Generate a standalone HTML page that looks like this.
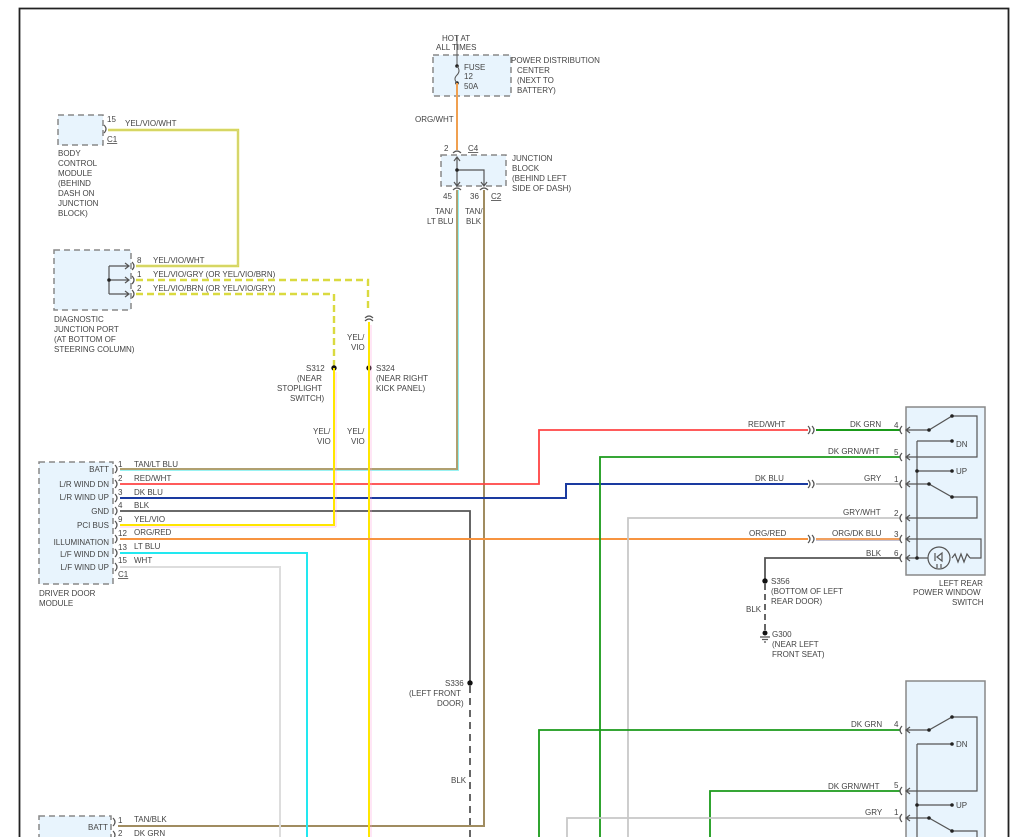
<!DOCTYPE html>
<html><head><meta charset="utf-8"><style>
html,body{margin:0;padding:0;background:#fff;}
svg{display:block;}
text{font-family:"Liberation Sans",sans-serif;font-size:8px;fill:#444;}
.b{fill:#e8f4fd;stroke:#888;stroke-width:1.5;stroke-dasharray:6,4;}
.s{fill:#e8f4fd;stroke:#888;stroke-width:1.5;}
.k{stroke:#555;stroke-width:1.2;fill:none;}
</style></head><body>
<svg width="1023" height="837" viewBox="0 0 1023 837" xmlns="http://www.w3.org/2000/svg">
<path d="M19.5 837 V8.5 H1008.5 V837" stroke="#222" stroke-width="1.8" fill="none"/>

<rect class="b" x="433" y="55" width="78" height="41"/>
<text x="442" y="41">HOT AT</text><text x="436" y="50">ALL TIMES</text>
<text x="511" y="63">POWER DISTRIBUTION</text><text x="517" y="73">CENTER</text><text x="517" y="83">(NEXT TO</text><text x="517" y="93">BATTERY)</text>
<line x1="457" y1="36" x2="457" y2="66" stroke="#555"/>
<circle cx="457" cy="66" r="1.8" fill="#222"/><circle cx="457" cy="83" r="1.8" fill="#222"/>
<path d="M457 66 Q461 71 457 75 Q453 79 457 83" stroke="#555" fill="none"/>
<text x="464" y="70">FUSE</text><text x="464" y="79">12</text><text x="464" y="89">50A</text>
<line x1="457" y1="83" x2="457" y2="150" stroke="#f0a050" stroke-width="2"/>
<text x="415" y="122">ORG/WHT</text>

<text x="444" y="151">2</text><text x="468" y="151" text-decoration="underline">C4</text>
<path d="M453 153 Q457 149 461 153" class="k"/>
<rect class="b" x="441" y="155" width="65" height="31"/>
<text x="512" y="161">JUNCTION</text><text x="512" y="171">BLOCK</text><text x="512" y="181">(BEHIND LEFT</text><text x="512" y="191">SIDE OF DASH)</text>
<path d="M457 157 V186 M454 161 L457 157 L460 161 M454 182 L457 186 L460 182 M457 170 H484 V186 M481 182 L484 186 L487 182" class="k"/>
<circle cx="457" cy="170" r="1.8" fill="#222"/>
<path d="M453 190 Q457 186 461 190 M480 190 Q484 186 488 190" class="k"/>
<text x="443" y="199">45</text><text x="470" y="199">36</text><text x="491" y="199" text-decoration="underline">C2</text>
<text x="435" y="214">TAN/</text><text x="427" y="224">LT BLU</text>
<text x="465" y="214">TAN/</text><text x="466" y="224">BLK</text>

<rect class="b" x="58" y="115" width="45" height="30"/>
<text x="107" y="122">15</text><text x="107" y="142" text-decoration="underline">C1</text>
<path d="M104 125 Q108 129 104 133" class="k"/>
<text x="125" y="126">YEL/VIO/WHT</text>
<text x="58" y="156">BODY</text><text x="58" y="166">CONTROL</text><text x="58" y="176">MODULE</text><text x="58" y="186">(BEHIND</text><text x="58" y="196">DASH ON</text><text x="58" y="206">JUNCTION</text><text x="58" y="216">BLOCK)</text>
<path d="M108 130 H238 V266 H136" stroke="#dada40" stroke-width="2.4" fill="none"/>
<path d="M108 130 H238 V266 H136" stroke="#ccc" stroke-width="0.6" fill="none"/>

<rect class="b" x="54" y="250" width="77" height="60"/>
<path d="M109 266 H129 M109 280 H129 M109 294 H129 M109 266 V294 M125 263 L129 266 L125 269 M125 277 L129 280 L125 283 M125 291 L129 294 L125 297" class="k"/>
<circle cx="109" cy="280" r="1.8" fill="#222"/>
<path d="M132 262 Q136 266 132 270 M132 276 Q136 280 132 284 M132 290 Q136 294 132 298" class="k"/>
<text x="137" y="263">8</text><text x="153" y="263">YEL/VIO/WHT</text>
<text x="137" y="277">1</text><text x="153" y="277">YEL/VIO/GRY (OR YEL/VIO/BRN)</text>
<text x="137" y="291">2</text><text x="153" y="291">YEL/VIO/BRN (OR YEL/VIO/GRY)</text>
<text x="54" y="322">DIAGNOSTIC</text><text x="54" y="332">JUNCTION PORT</text><text x="54" y="342">(AT BOTTOM OF</text><text x="54" y="352">STEERING COLUMN)</text>
<path d="M136 280 H368 V312 M136 294 H334 V368" stroke="#dada40" stroke-width="2.4" stroke-dasharray="7,4" fill="none"/>
<path d="M365 318 Q369 314 373 318 M365 321 Q369 317 373 321" class="k"/>
<text x="347" y="340">YEL/</text><text x="351" y="350">VIO</text>
<circle cx="334" cy="368" r="2.7" fill="#111"/><circle cx="369" cy="368" r="2.7" fill="#111"/>
<text x="306" y="371">S312</text><text x="297" y="381">(NEAR</text><text x="277" y="391">STOPLIGHT</text><text x="290" y="401">SWITCH)</text>
<text x="376" y="371">S324</text><text x="376" y="381">(NEAR RIGHT</text><text x="376" y="391">KICK PANEL)</text>
<text x="313" y="434">YEL/</text><text x="317" y="444">VIO</text>
<text x="347" y="434">YEL/</text><text x="351" y="444">VIO</text>

<g fill="none">
<path d="M120 469 H457 V190" stroke="#b0a070" stroke-width="2"/>
<path d="M120 470.5 H458.5 V190" stroke="#7ee" stroke-width="0.8"/>
<path d="M484 190 V826 H118" stroke="#a08c60" stroke-width="2"/>
<path d="M120 484 H539 V430 H808" stroke="#f44" stroke-width="1.8"/>
<path d="M816 430 H900" stroke="#1a9a1a" stroke-width="2"/>
<path d="M120 498 H566 V484 H808" stroke="#1a3aa0" stroke-width="2"/>
<path d="M816 484 H900" stroke="#bbb" stroke-width="2"/>
<path d="M120 511 H470 V683" stroke="#555" stroke-width="1.8"/>
<path d="M470 686 V837" stroke="#555" stroke-width="1.8" stroke-dasharray="7,5"/>
<path d="M120 525 H334 V368" stroke="#ffe600" stroke-width="2"/>
<path d="M120 527 H336 V372" stroke="#f9d" stroke-width="0.5"/>
<path d="M369 322 V837" stroke="#ffe600" stroke-width="2"/>
<path d="M371 325 V837" stroke="#f9d" stroke-width="0.5"/>
<path d="M120 539 H808" stroke="#f79440" stroke-width="2"/>
<path d="M816 539 H900" stroke="#f0a060" stroke-width="2"/>
<path d="M816 540.5 H900" stroke="#88a" stroke-width="0.6"/>
<path d="M120 553 H307 V837" stroke="#22e8f0" stroke-width="2"/>
<path d="M120 567 H280 V837" stroke="#ddd" stroke-width="2"/>
<path d="M600 837 V457 H900" stroke="#1a9a1a" stroke-width="1.8"/>
<path d="M628 837 V518 H900" stroke="#c8c8c8" stroke-width="1.8"/>
<path d="M900 558 H765 V580" stroke="#555" stroke-width="1.8"/>
<path d="M765 584 V632" stroke="#555" stroke-width="1.8" stroke-dasharray="6,4"/>
<path d="M539 837 V730 H900" stroke="#1a9a1a" stroke-width="1.8"/>
<path d="M710 837 V791 H900" stroke="#1a9a1a" stroke-width="1.8"/>
<path d="M567 837 V818 H900" stroke="#c8c8c8" stroke-width="1.8"/>
</g>
<path d="M808 426 Q812 430 808 434 M812 426 Q816 430 812 434 M808 480 Q812 484 808 488 M812 480 Q816 484 812 488 M808 535 Q812 539 808 543 M812 535 Q816 539 812 543" class="k"/>
<text x="748" y="427">RED/WHT</text><text x="850" y="427">DK GRN</text>
<text x="828" y="454">DK GRN/WHT</text>
<text x="755" y="481">DK BLU</text><text x="864" y="481">GRY</text>
<text x="843" y="515">GRY/WHT</text>
<text x="749" y="536">ORG/RED</text><text x="832" y="536">ORG/DK BLU</text>
<text x="866" y="556">BLK</text>
<circle cx="765" cy="581" r="2.7" fill="#111"/>
<text x="771" y="584">S356</text><text x="771" y="594">(BOTTOM OF LEFT</text><text x="771" y="604">REAR DOOR)</text>
<text x="746" y="612">BLK</text>
<circle cx="765" cy="633" r="2.5" fill="#111"/>
<path d="M760 637 H770 M762 639.5 H768 M764 642 H766" class="k"/>
<text x="772" y="637">G300</text><text x="772" y="647">(NEAR LEFT</text><text x="772" y="657">FRONT SEAT)</text>

<rect class="b" x="39" y="462" width="74" height="122"/>
<g text-anchor="end">
<text x="109" y="472">BATT</text><text x="109" y="487">L/R WIND DN</text><text x="109" y="500">L/R WIND UP</text><text x="109" y="514">GND</text><text x="109" y="528">PCI BUS</text><text x="109" y="545">ILLUMINATION</text><text x="109" y="557">L/F WIND DN</text><text x="109" y="570">L/F WIND UP</text>
</g>
<path d="M115 465 Q119 469 115 473 M115 480 Q119 484 115 488 M115 494 Q119 498 115 502 M115 507 Q119 511 115 515 M115 521 Q119 525 115 529 M115 535 Q119 539 115 543 M115 549 Q119 553 115 557 M115 563 Q119 567 115 571" class="k"/>
<text x="118" y="467">1</text><text x="134" y="467">TAN/LT BLU</text>
<text x="118" y="481">2</text><text x="134" y="481">RED/WHT</text>
<text x="118" y="495">3</text><text x="134" y="495">DK BLU</text>
<text x="118" y="508">4</text><text x="134" y="508">BLK</text>
<text x="118" y="522">9</text><text x="134" y="522">YEL/VIO</text>
<text x="118" y="536">12</text><text x="134" y="535">ORG/RED</text>
<text x="118" y="550">13</text><text x="134" y="549">LT BLU</text>
<text x="118" y="563">15</text><text x="134" y="563">WHT</text>
<text x="118" y="577" text-decoration="underline">C1</text>
<text x="39" y="596">DRIVER DOOR</text><text x="39" y="606">MODULE</text>

<circle cx="470" cy="683" r="2.7" fill="#111"/>
<text x="445" y="686">S336</text><text x="409" y="696">(LEFT FRONT</text><text x="437" y="706">DOOR)</text>
<text x="451" y="783">BLK</text>

<rect class="b" x="39" y="816" width="72" height="30"/>
<text x="88" y="830">BATT</text>
<path d="M113 818 Q117 822 113 826 M113 831 Q117 835 113 839" class="k"/>
<text x="118" y="823">1</text><text x="134" y="822">TAN/BLK</text>
<text x="118" y="836">2</text><text x="134" y="836">DK GRN</text>

<rect class="s" x="906" y="407" width="79" height="168"/>
<g class="k">
<path d="M902 426 Q898 430 902 434 M902 453 Q898 457 902 461 M902 480 Q898 484 902 488 M902 514 Q898 518 902 522 M902 535 Q898 539 902 543 M902 554 Q898 558 902 562"/>
<path d="M906 430 H929 L952 416 H977 V457 H906 M910 427 L906 430 L910 433 M910 454 L906 457 L910 460"/>
<path d="M917 441 H952 M917 441 V558 M917 471 H952 M906 484 H929 L952 497 H977 V518 H906 M906 539 H981 V558 H970 M906 558 H928 M910 481 L906 484 L910 487 M910 515 L906 518 L910 521 M910 536 L906 539 L910 542 M910 555 L906 558 L910 561"/>
<path d="M952 558 L955 554 L958 562 L961 554 L964 562 L967 554 L970 558"/>
<circle cx="939" cy="558" r="11"/>
<path d="M935 553 V561 M937 557 L942 553 V561 Z M937 564 V568 M941 564 V568"/>
</g>
<g fill="#222"><circle cx="929" cy="430" r="1.8"/><circle cx="952" cy="416" r="1.8"/><circle cx="952" cy="441" r="1.8"/><circle cx="917" cy="471" r="1.8"/><circle cx="952" cy="471" r="1.8"/><circle cx="929" cy="484" r="1.8"/><circle cx="952" cy="497" r="1.8"/><circle cx="917" cy="558" r="1.8"/></g>
<text x="956" y="447">DN</text><text x="956" y="474">UP</text>
<text x="894" y="428">4</text><text x="894" y="455">5</text><text x="894" y="482">1</text><text x="894" y="516">2</text><text x="894" y="537">3</text><text x="894" y="556">6</text>
<text x="939" y="586">LEFT REAR</text><text x="913" y="595">POWER WINDOW</text><text x="952" y="605">SWITCH</text>

<rect class="s" x="906" y="681" width="79" height="170"/>
<g class="k">
<path d="M902 726 Q898 730 902 734 M902 787 Q898 791 902 795 M902 814 Q898 818 902 822"/>
<path d="M906 730 H929 L952 717 H977 V791 H906 M910 727 L906 730 L910 733 M910 788 L906 791 L910 794"/>
<path d="M917 744 H952 M917 744 V837 M917 805 H952 M906 818 H929 L952 831 H977 V837 M910 815 L906 818 L910 821"/>
</g>
<g fill="#222"><circle cx="929" cy="730" r="1.8"/><circle cx="952" cy="717" r="1.8"/><circle cx="952" cy="744" r="1.8"/><circle cx="917" cy="805" r="1.8"/><circle cx="952" cy="805" r="1.8"/><circle cx="929" cy="818" r="1.8"/><circle cx="952" cy="831" r="1.8"/></g>
<text x="956" y="747">DN</text><text x="956" y="808">UP</text>
<text x="894" y="727">4</text><text x="894" y="788">5</text><text x="894" y="815">1</text>
<text x="851" y="727">DK GRN</text><text x="828" y="789">DK GRN/WHT</text><text x="865" y="815">GRY</text>
</svg>
</body></html>
